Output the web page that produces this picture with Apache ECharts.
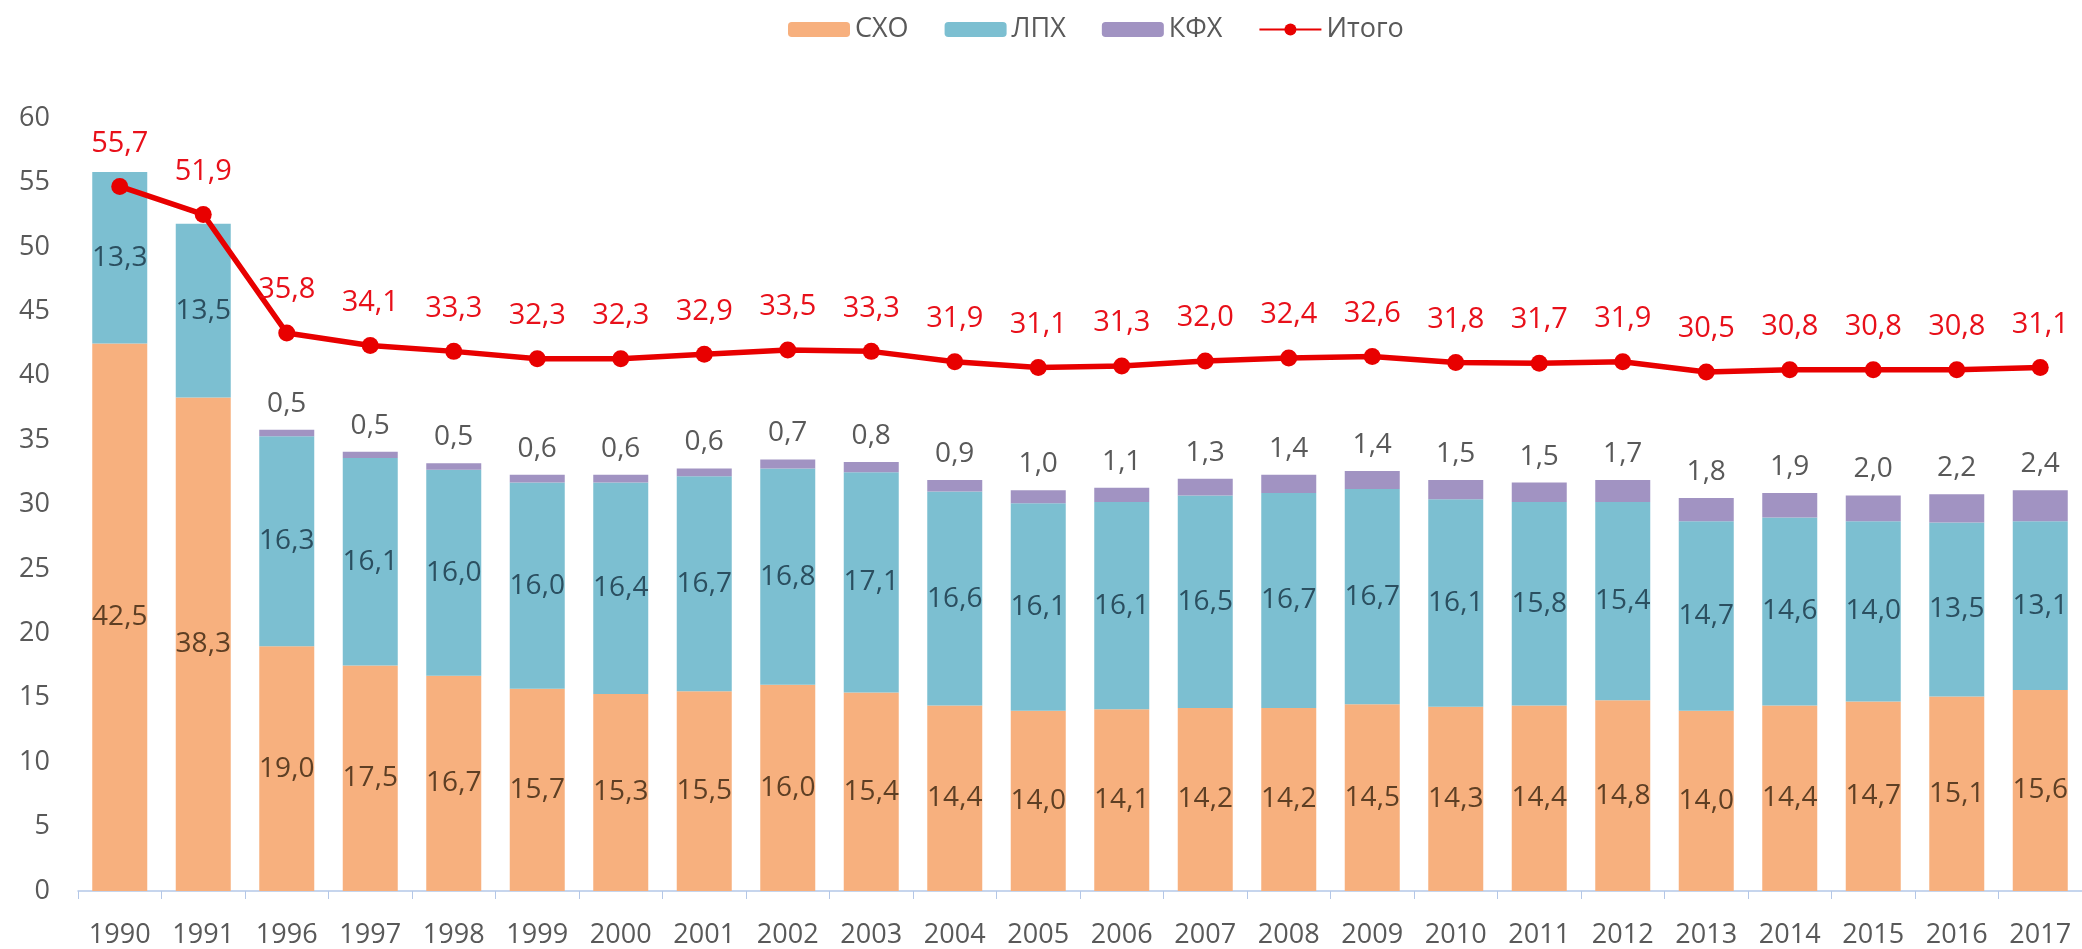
<!DOCTYPE html>
<html>
<head>
<meta charset="utf-8">
<script src="https://cdn.jsdelivr.net/npm/echarts@6/dist/echarts.min.js"></script>
<style>
  html, body { margin: 0; padding: 0; background: #fff; }
  #chart { width: 2082px; height: 949px; }
</style>
</head>
<body>
<div id="chart"></div>
<script>
// данные с картинки
const years = ['1990', '1991', '1996', '1997', '1998', '1999', '2000', '2001', '2002', '2003', '2004', '2005',
  '2006', '2007', '2008', '2009', '2010', '2011', '2012', '2013', '2014', '2015', '2016', '2017']
const sxo = [42.5, 38.3, 19.0, 17.5, 16.7, 15.7, 15.3, 15.5, 16.0, 15.4, 14.4, 14.0,
  14.1, 14.2, 14.2, 14.5, 14.3, 14.4, 14.8, 14.0, 14.4, 14.7, 15.1, 15.6]
const lph = [13.3, 13.5, 16.3, 16.1, 16.0, 16.0, 16.4, 16.7, 16.8, 17.1, 16.6, 16.1,
  16.1, 16.5, 16.7, 16.7, 16.1, 15.8, 15.4, 14.7, 14.6, 14.0, 13.5, 13.1]
const kfh = [null, null, 0.5, 0.5, 0.5, 0.6, 0.6, 0.6, 0.7, 0.8, 0.9, 1.0,
  1.1, 1.3, 1.4, 1.4, 1.5, 1.5, 1.7, 1.8, 1.9, 2.0, 2.2, 2.4]
const total = [55.7, 51.9, 35.8, 34.1, 33.3, 32.3, 32.3, 32.9, 33.5, 33.3, 31.9, 31.1,
  31.3, 32.0, 32.4, 32.6, 31.8, 31.7, 31.9, 30.5, 30.8, 30.8, 30.8, 31.1]
const yTicks = [0, 5, 10, 15, 20, 25, 30, 35, 40, 45, 50, 55, 60]

const FONT = 'Open Sans'
const fmt = (p) => p.value == null ? '' : p.value.toFixed(1).replace('.', ',')

const myChart = echarts.init(document.getElementById('chart'))

let option = {
  animation: false,
  textStyle: { fontFamily: FONT },
  legend: {
    left: 783,
    top: 11,
    itemWidth: 62,
    itemHeight: 15,
    itemGap: 36,
    textStyle: { fontSize: 27, color: '#595959', fontFamily: FONT },
    data: ['СХО', 'ЛПХ', 'КФХ', 'Итого'],
  },
  grid: { left: 78, top: 118, width: 2008, height: 777 },
  xAxis: {
    type: 'category',
    data: years,
    axisLine: { lineStyle: { color: '#B4C7E7', width: 1.5 } },
    axisTick: { show: true, length: 8, lineStyle: { color: '#B4C7E7' } },
    axisLabel: { fontSize: 27, color: '#595959', margin: 31 },
  },
  yAxis: [
    {
      type: 'value',
      min: yTicks[0],
      max: yTicks[yTicks.length - 1],
      interval: 5,
      splitLine: { show: false },
      axisLine: { show: false },
      axisLabel: { fontSize: 27, color: '#595959', margin: 28 },
    },
    {
      // скрытая вспомогательная ось для линии «Итого»
      type: 'value',
      min: -40,
      max: 65,
      show: false,
      splitLine: { show: false },
    },
  ],
  series: [
    {
      name: 'СХО',
      type: 'bar',
      stack: 'all',
      barWidth: 55,
      data: sxo,
      itemStyle: { color: '#F7B07E' },
      label: { show: true, position: 'inside', fontSize: 28, color: '#5E3F24', formatter: fmt },
    },
    {
      name: 'ЛПХ',
      type: 'bar',
      stack: 'all',
      data: lph,
      itemStyle: { color: '#7CBFD1' },
      label: { show: true, position: 'inside', fontSize: 28, color: '#2B4F60', formatter: fmt },
    },
    {
      name: 'КФХ',
      type: 'bar',
      stack: 'all',
      data: kfh,
      itemStyle: { color: '#A193C2' },
      label: { show: true, position: 'top', distance: 12, fontSize: 28, color: '#595959', formatter: fmt },
    },
    {
      name: 'Итого',
      type: 'line',
      yAxisIndex: 1,
      data: total,
      symbol: 'circle',
      symbolSize: 17,
      lineStyle: { color: '#E80000', width: 5.5 },
      itemStyle: { color: '#E80000' },
      label: { show: true, position: 'top', distance: 20, fontSize: 29, color: '#E8101A', formatter: fmt },
      z: 10,
    },
  ],
}
myChart.setOption(option)

window.addEventListener('resize', function () {
  myChart.resize()
})
</script>
</body>
</html>
